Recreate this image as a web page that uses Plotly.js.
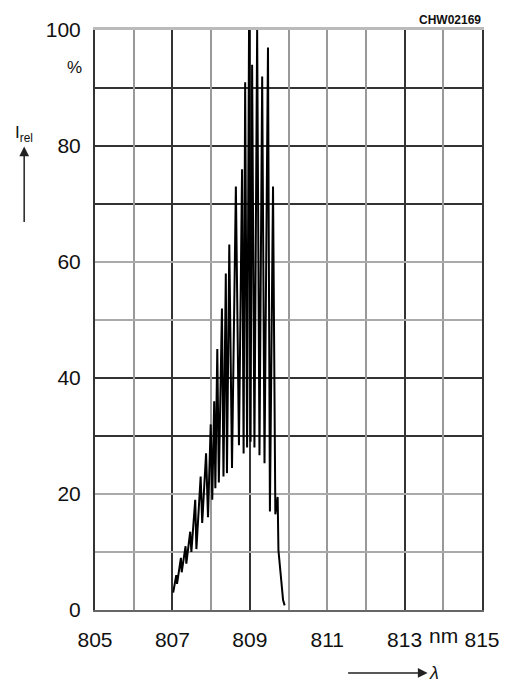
<!DOCTYPE html>
<html><head><meta charset="utf-8">
<script src="https://cdn.plot.ly/plotly-3.0.1.min.js"></script>
<style>html,body{margin:0;padding:0;background:#fff;} #chart{width:510px;height:686px;}</style>
</head><body><div id="chart"></div>
<script>
// Spectrum: relative intensity (%) vs wavelength (nm)
const wavelength = [
  807.02, 807.10, 807.12, 807.22, 807.24, 807.34, 807.36, 807.46, 807.49, 807.59,
  807.62, 807.73, 807.77, 807.87, 807.92, 807.99, 808.03, 808.08, 808.11, 808.16,
  808.20, 808.28, 808.32, 808.38, 808.41, 808.47, 808.54, 808.64, 808.72, 808.80,
  808.84, 808.88, 808.93, 808.98, 809.02, 809.06, 809.12, 809.19, 809.25, 809.32,
  809.38, 809.47, 809.52, 809.60, 809.66, 809.72, 809.74, 809.86, 809.90
];
const intensity = [
  3, 6, 4.5, 9, 6.5, 11, 8, 13.5, 10, 19,
  10.5, 23, 15, 27, 16, 32, 19, 36, 21, 45,
  22, 52, 23, 58, 23.6, 63, 24.5, 73, 28.4, 76,
  27, 91, 28, 100, 29, 94, 28, 100, 26.7, 92,
  25.3, 97, 17, 73, 16.5, 19.5, 10.3, 1.7, 0.8
];
const xTickVals = [805, 807, 809, 811, 813, 815];
const xTickText = ['805', '807', '809', '811', '813', '815'];
const yTickVals = [0, 20, 40, 60, 80, 100];
const xDarkGrid = [807, 809, 813];
const xGrayGrid = [806, 808, 810, 811, 812, 814];
const yDarkGrid = [30, 40, 70, 80, 90];
const yGrayGrid = [10, 20, 50, 60];

const fam = 'Liberation Sans, Arial, sans-serif';
const tickFont = {family: fam, size: 21, color: '#111'};
const hidden = 'rgba(0,0,0,0)';

const traces = [
  {x: [], y: [], xaxis: 'x', yaxis: 'y', type: 'scatter', hoverinfo: 'skip', showlegend: false},
  {x: [], y: [], xaxis: 'x2', yaxis: 'y2', type: 'scatter', hoverinfo: 'skip', showlegend: false},
  {x: wavelength, y: intensity, xaxis: 'x3', yaxis: 'y3', type: 'scatter', mode: 'lines',
   line: {color: '#000', width: 2}, showlegend: false}
];

const layout = {
  width: 510, height: 686,
  margin: {l: 95, r: 28, t: 30, b: 76},
  paper_bgcolor: '#fff', plot_bgcolor: '#fff',
  showlegend: false,
  xaxis: {range: [805, 815], tickvals: xTickVals, ticktext: xTickText, showgrid: false,
    zeroline: false, showline: true, linecolor: '#666', linewidth: 2,
    ticks: 'outside', ticklen: 10, tickcolor: hidden, tickfont: tickFont, fixedrange: true},
  yaxis: {range: [0, 100], tickvals: yTickVals, showgrid: false, zeroline: false,
    showline: true, linecolor: '#333', linewidth: 2,
    ticks: 'outside', ticklen: 8, tickcolor: hidden, tickfont: tickFont, fixedrange: true},
  xaxis2: {overlaying: 'x', anchor: 'y2', side: 'top', range: [805, 815], tickvals: xDarkGrid,
    showticklabels: false, ticks: '', showgrid: true, gridcolor: '#333', gridwidth: 2,
    zeroline: false, showline: true, linecolor: '#bbb', linewidth: 3},
  yaxis2: {overlaying: 'y', anchor: 'x2', side: 'right', range: [0, 100], tickvals: yDarkGrid,
    showticklabels: false, ticks: '', showgrid: true, gridcolor: '#333', gridwidth: 2,
    zeroline: false, showline: true, linecolor: '#333', linewidth: 2},
  xaxis3: {overlaying: 'x', anchor: 'y3', range: [805, 815], tickvals: xGrayGrid,
    showticklabels: false, ticks: '', showgrid: true, gridcolor: '#999', gridwidth: 2,
    zeroline: false, showline: false},
  yaxis3: {overlaying: 'y', anchor: 'x3', range: [0, 100], tickvals: yGrayGrid,
    showticklabels: false, ticks: '', showgrid: true, gridcolor: '#aaa', gridwidth: 2,
    zeroline: false, showline: false},
  annotations: [
    {xref: 'paper', yref: 'paper', x: -0.0517, y: 0.9345, xanchor: 'center', yanchor: 'middle',
     text: '%', showarrow: false, font: {family: fam, size: 17, color: '#111'}},
    // I_rel label with upward arrow (tail at bottom, head under the label)
    {xref: 'paper', yref: 'paper', x: -0.183, y: 0.6690, text: 'I<sub>rel</sub>',
     showarrow: true, arrowside: 'start', startarrowhead: 2, startarrowsize: 1.3,
     arrowwidth: 1.5, arrowcolor: '#222', ax: 0, ay: -88, startstandoff: 0, standoff: 0,
     font: {family: fam, size: 17, color: '#111'}},
    // lambda label with arrow pointing right to it
    {xref: 'paper', yref: 'paper', x: 0.654, y: -0.1086, text: '<i>λ</i>',
     showarrow: true, arrowside: 'start', startarrowhead: 2, startarrowsize: 1.3,
     arrowwidth: 1.5, arrowcolor: '#222', ax: 86, ay: 0,
     font: {family: fam, size: 18, color: '#111'}},
    {xref: 'x', yref: 'paper', x: 814, y: -0.0448, xanchor: 'center', yanchor: 'middle',
     text: 'nm', showarrow: false, font: tickFont},
    {xref: 'paper', yref: 'paper', x: 1.0026, y: 1.017, xanchor: 'right', yanchor: 'middle',
     text: '<b>CHW02169</b>', showarrow: false,
     font: {family: fam, size: 12, color: '#111'}}
  ]
};

Plotly.newPlot('chart', traces, layout, {staticPlot: true, displayModeBar: false});
</script>
</body></html>
